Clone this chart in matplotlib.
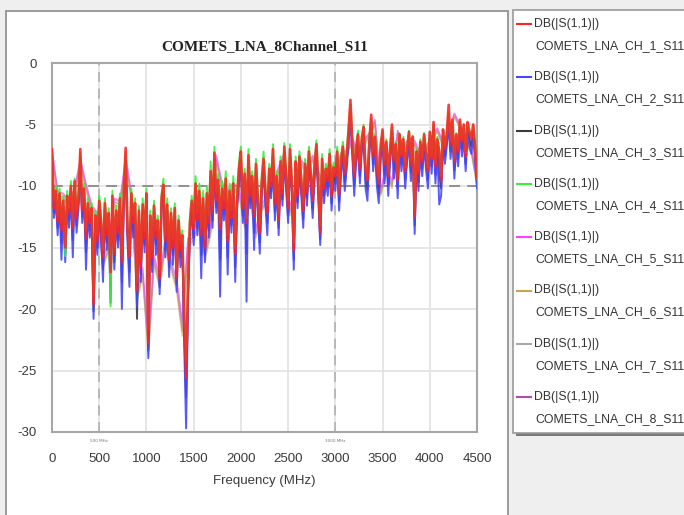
import matplotlib
matplotlib.use('Agg')
import matplotlib.pyplot as plt
from matplotlib.patches import Rectangle
from matplotlib.lines import Line2D
import numpy as np

# frequency grids (MHz)
freq = np.arange(0, 4501, 20)
freq_coarse = np.arange(0, 4501, 60)

# DB(|S(1,1)|) per channel (one row = 500 MHz)
ch1 = [-7.0, -11.8, -10.4, -12.9, -10.6, -13.6, -11.2, -15.0, -10.8, -12.2, -10.0, -13.4, -9.6, -12.6, -11.0, -7.0, -12.0, -10.2, -14.2, -11.4, -13.0, -11.8, -19.6, -12.4, -14.5,
       -11.2, -13.0, -15.8, -11.4, -14.0, -12.2, -17.0, -10.8, -15.5, -12.0, -13.8, -11.0, -16.2, -10.5, -6.9, -13.5, -15.8, -10.6, -13.0, -11.4, -18.5, -12.0, -16.6, -11.5, -14.2,
       -10.6, -22.8, -12.4, -15.8, -11.6, -14.2, -12.8, -17.5, -11.0, -9.9, -14.5, -11.5, -16.0, -12.2, -15.0, -11.8, -17.5, -12.8, -15.2, -14.0, -20.5, -25.6, -18.0, -13.0, -11.2,
       -13.5, -9.8, -12.8, -10.4, -14.0, -11.0, -15.0, -10.6, -13.0, -8.8, -12.2, -7.3, -11.2, -9.5, -13.5, -10.2, -11.8, -9.4, -14.5, -10.4, -12.6, -9.8, -15.5, -11.0, -8.6,
       -7.2, -11.8, -9.0, -13.0, -7.5, -10.8, -9.2, -12.5, -8.2, -11.2, -13.8, -9.8, -7.8, -10.5, -12.2, -8.6, -10.0, -7.0, -11.5, -9.2, -12.8, -8.0, -10.6, -6.8, -9.4,
       -11.8, -7.0, -9.8, -15.2, -8.0, -10.8, -7.6, -9.6, -12.0, -8.2, -10.5, -7.2, -9.0, -11.2, -8.4, -6.6, -9.8, -13.8, -7.8, -10.2, -8.6, -9.6, -7.4, -10.8, -8.5,
       -9.2, -7.2, -10.6, -8.0, -6.8, -9.0, -7.6, -5.5, -3.0, -6.5, -9.2, -7.0, -5.8, -8.6, -6.2, -5.2, -8.8, -9.5, -6.4, -4.2, -7.6, -6.0, -8.5, -9.8, -6.8,
       -5.4, -8.2, -6.4, -9.2, -7.0, -5.0, -8.0, -6.6, -9.5, -5.8, -7.6, -6.2, -8.8, -7.0, -5.6, -8.2, -6.0, -12.5, -7.2, -9.0, -6.4, -8.0, -5.8, -7.4, -8.8,
       -5.6, -7.8, -4.8, -8.4, -6.2, -7.2, -9.6, -5.4, -7.0, -5.8, -3.4, -6.6, -4.6, -8.0, -5.8, -7.2, -4.6, -6.4, -5.0, -7.6, -4.8, -5.6, -6.2, -5.0, -6.8,
       -9.3]
ch2 = [-8.2, -12.6, -11.2, -14.0, -11.4, -16.0, -12.0, -16.2, -11.6, -13.4, -10.8, -15.8, -10.4, -13.8, -11.8, -8.8, -13.0, -11.0, -16.8, -12.2, -14.2, -12.6, -20.8, -13.2, -15.6,
       -12.2, -14.2, -17.8, -12.2, -15.2, -13.0, -19.5, -11.6, -16.8, -12.8, -15.0, -11.8, -20.0, -11.4, -8.8, -14.6, -18.2, -11.4, -14.2, -12.2, -19.8, -12.8, -17.8, -12.4, -15.4,
       -11.6, -24.0, -13.2, -17.0, -12.4, -15.6, -13.6, -18.8, -11.8, -11.0, -15.8, -12.4, -17.4, -13.0, -16.4, -12.6, -18.6, -13.6, -16.6, -15.0, -23.0, -29.7, -19.6, -14.0, -12.0,
       -14.8, -10.8, -14.0, -11.2, -17.5, -11.8, -16.2, -11.4, -14.2, -9.8, -13.4, -8.6, -12.2, -10.5, -19.0, -11.0, -12.8, -10.4, -17.2, -11.2, -13.8, -10.8, -17.8, -11.8, -9.8,
       -8.4, -13.0, -10.0, -19.4, -8.5, -11.8, -10.2, -15.2, -9.0, -12.4, -15.5, -10.8, -8.8, -11.6, -14.0, -9.6, -11.0, -8.0, -12.8, -10.2, -14.0, -9.0, -11.6, -7.8, -10.4,
       -13.0, -8.0, -10.8, -16.8, -9.0, -11.8, -8.6, -10.8, -13.4, -9.2, -11.6, -8.2, -10.2, -12.6, -9.4, -7.6, -11.0, -14.8, -8.8, -11.4, -9.6, -10.8, -8.4, -12.0, -9.6,
       -10.4, -8.2, -12.0, -9.0, -7.8, -10.4, -8.6, -6.6, -4.4, -7.6, -10.8, -8.0, -6.8, -9.8, -7.2, -6.2, -10.2, -11.2, -7.4, -5.4, -8.8, -7.0, -10.0, -11.4, -7.8,
       -6.6, -9.8, -7.4, -10.8, -8.0, -6.2, -9.4, -7.6, -11.0, -6.8, -8.8, -7.2, -10.2, -8.0, -6.6, -9.6, -7.0, -13.9, -8.2, -10.4, -7.4, -9.2, -6.8, -8.6, -10.2,
       -6.8, -9.0, -6.0, -9.8, -7.2, -11.5, -10.8, -6.6, -8.2, -6.8, -5.0, -7.8, -5.8, -9.4, -6.8, -8.4, -5.8, -7.6, -6.2, -8.8, -5.8, -6.8, -7.4, -6.0, -8.0,
       -10.2]
ch3 = [-7.4, -12.2, -10.8, -13.4, -11.0, -14.6, -11.6, -15.5, -11.2, -12.8, -10.4, -14.4, -10.0, -13.2, -11.4, -7.8, -12.5, -10.6, -15.4, -11.8, -13.6, -12.2, -20.2, -12.8, -15.0,
       -11.7, -13.6, -16.8, -11.8, -14.6, -12.6, -18.0, -11.2, -16.2, -12.4, -14.4, -11.4, -17.8, -11.0, -7.8, -14.0, -17.0, -11.0, -13.6, -11.8, -20.8, -12.4, -17.2, -12.0, -14.8,
       -11.1, -23.4, -12.8, -16.4, -12.0, -14.8, -13.2, -18.2, -11.4, -10.4, -15.2, -12.0, -16.6, -12.6, -15.6, -12.2, -18.0, -13.2, -15.8, -14.5, -21.8, -27.2, -18.8, -13.5, -11.6,
       -14.2, -10.3, -13.4, -10.8, -15.6, -11.4, -15.6, -11.0, -13.6, -9.3, -12.8, -7.9, -11.7, -10.0, -16.0, -10.6, -12.3, -9.9, -15.8, -10.8, -13.2, -10.3, -16.6, -11.4, -9.2,
       -7.8, -12.4, -9.5, -15.5, -8.0, -11.3, -9.7, -13.8, -8.6, -11.8, -14.6, -10.3, -8.3, -11.0, -13.0, -9.1, -10.5, -7.5, -12.1, -9.7, -13.4, -8.5, -11.1, -7.3, -9.9,
       -12.4, -7.5, -10.3, -16.0, -8.5, -11.3, -8.1, -10.2, -12.7, -8.7, -11.0, -7.7, -9.6, -11.9, -8.9, -7.1, -10.4, -14.3, -8.3, -10.8, -9.1, -10.2, -7.9, -11.4, -9.0,
       -9.8, -7.7, -11.3, -8.5, -7.3, -9.7, -8.1, -6.0, -3.7, -7.0, -10.0, -7.5, -6.3, -9.2, -6.7, -5.7, -9.5, -10.3, -6.9, -4.8, -8.2, -6.5, -9.2, -10.6, -7.3,
       -6.0, -9.0, -6.9, -10.0, -7.5, -5.6, -8.7, -7.1, -10.2, -6.3, -8.2, -6.7, -9.5, -7.5, -6.1, -8.9, -6.5, -13.2, -7.7, -9.7, -6.9, -8.6, -6.3, -8.0, -9.5,
       -6.2, -8.4, -5.4, -9.1, -6.7, -9.0, -10.2, -6.0, -7.6, -6.3, -4.2, -7.2, -5.2, -8.7, -6.3, -7.8, -5.2, -7.0, -5.6, -8.2, -5.3, -6.2, -6.8, -5.5, -7.4,
       -9.7]
ch4 = [-7.4, -11.2, -10.0, -12.4, -10.2, -13.0, -10.8, -15.7, -10.4, -11.8, -9.6, -12.8, -9.4, -12.0, -10.6, -7.3, -11.6, -9.8, -13.6, -11.0, -12.4, -11.4, -19.0, -12.0, -14.0,
       -10.8, -12.4, -15.2, -11.0, -13.4, -11.8, -19.8, -10.4, -15.0, -11.6, -13.2, -10.6, -15.6, -10.0, -7.2, -13.0, -15.2, -10.2, -12.4, -11.0, -17.8, -11.6, -16.0, -11.0, -13.6,
       -10.2, -21.6, -12.0, -15.2, -11.2, -13.6, -12.4, -16.8, -10.6, -9.4, -14.0, -11.0, -15.4, -11.8, -14.4, -11.4, -16.8, -12.4, -14.6, -13.6, -19.8, -24.2, -17.2, -12.6, -10.8,
       -13.0, -9.2, -12.2, -9.8, -13.4, -10.4, -14.4, -10.0, -12.4, -8.0, -11.6, -6.8, -10.6, -9.0, -13.0, -9.6, -11.2, -8.8, -14.0, -9.8, -12.0, -9.2, -15.0, -10.4, -8.0,
       -6.8, -11.2, -8.6, -12.6, -7.0, -10.2, -8.8, -12.0, -7.8, -10.6, -13.2, -9.2, -7.2, -10.0, -11.6, -8.2, -9.6, -6.6, -11.0, -8.8, -12.2, -7.6, -10.2, -6.5, -9.0,
       -11.2, -6.6, -9.4, -14.6, -7.6, -10.2, -7.2, -9.2, -11.4, -7.8, -10.0, -6.8, -8.6, -10.6, -8.0, -6.3, -9.4, -13.2, -7.4, -9.8, -8.2, -9.2, -7.0, -10.2, -8.1,
       -8.8, -6.8, -10.2, -7.6, -6.4, -8.6, -7.2, -5.2, -3.4, -6.2, -8.8, -6.6, -5.5, -8.2, -5.9, -5.0, -8.4, -9.1, -6.1, -4.5, -7.2, -5.7, -8.1, -9.4, -6.5,
       -5.6, -7.9, -6.2, -8.9, -6.8, -5.2, -7.7, -6.4, -9.2, -5.7, -7.4, -6.0, -8.5, -6.8, -5.5, -7.9, -5.9, -12.0, -7.0, -8.7, -6.2, -7.7, -5.7, -7.2, -8.5,
       -5.6, -7.6, -5.0, -8.1, -6.0, -7.0, -9.2, -5.4, -6.8, -5.7, -4.0, -6.4, -4.8, -7.8, -5.7, -7.0, -4.8, -6.2, -5.0, -7.3, -4.9, -5.5, -6.0, -5.0, -6.6,
       -9.4]
# channels 5-8 sit underneath the others, read at a coarser step
ch5 = [-7.0, -10.4, -10.6, -11.2, -10.2, -7.8, -9.8, -11.5, -12.2, -15.8, -14.6, -11.0, -11.2, -7.6, -10.5, -18.4, -16.6,
       -22.6, -15.6, -17.4, -14.2, -16.0, -17.6, -21.0, -14.2, -13.6, -12.6, -15.0, -13.2, -7.5, -9.7, -10.3, -9.7, -10.2,
       -12.6, -10.7, -13.4, -11.5, -10.7, -9.7, -8.4, -7.3, -11.6, -10.1, -7.9, -8.5, -7.5, -8.8, -9.9, -8.1, -8.7,
       -7.3, -7.1, -6.0, -7.5, -6.3, -5.7, -4.6, -10.2, -8.5, -9.6, -5.5, -6.8, -6.1, -6.3, -7.4, -6.8, -5.9, -5.3,
       -6.4, -5.6, -4.1, -5.0, -6.2, -6.9, -9.5]
ch6 = [-7.4, -10.9, -11.1, -11.8, -10.7, -8.3, -10.3, -12.1, -12.7, -16.6, -15.3, -11.5, -11.7, -8.3, -11.1, -19.3, -17.4,
       -23.8, -16.4, -18.3, -15.0, -16.8, -18.5, -22.2, -14.9, -14.4, -13.4, -16.0, -14.0, -8.1, -10.3, -10.9, -10.3, -10.8,
       -13.4, -11.3, -14.2, -12.1, -11.3, -10.3, -9.0, -7.8, -12.4, -10.7, -8.4, -9.0, -8.0, -9.3, -10.5, -8.6, -9.2,
       -7.8, -7.6, -6.5, -8.0, -6.8, -6.0, -5.0, -10.8, -9.0, -10.2, -5.8, -7.3, -6.5, -6.7, -7.9, -7.2, -6.3, -5.6,
       -6.8, -6.0, -4.4, -5.3, -6.6, -7.3, -10.0]
ch7 = [-7.1, -10.5, -10.7, -11.4, -10.3, -7.9, -9.9, -11.7, -12.3, -16.0, -14.8, -11.1, -11.3, -7.9, -10.7, -18.6, -16.8,
       -23.0, -15.8, -17.6, -14.4, -16.2, -17.8, -21.3, -14.3, -13.8, -12.8, -15.3, -13.4, -7.7, -9.9, -10.5, -9.9, -10.4,
       -12.8, -10.9, -13.6, -11.7, -10.9, -9.9, -8.6, -7.4, -11.8, -10.3, -8.0, -8.6, -7.6, -8.9, -10.1, -8.2, -8.8,
       -7.4, -7.2, -6.1, -7.6, -6.4, -5.7, -4.7, -10.4, -8.6, -9.8, -5.5, -6.9, -6.2, -6.4, -7.5, -6.9, -6.0, -5.3,
       -6.5, -5.7, -4.1, -5.0, -6.3, -7.0, -9.6]
ch8 = [-7.3, -10.8, -10.9, -11.6, -10.5, -8.1, -10.1, -11.9, -12.5, -16.3, -15.1, -11.3, -11.5, -8.1, -10.9, -19.0, -17.1,
       -23.4, -16.1, -18.0, -14.7, -16.5, -18.2, -21.8, -14.6, -14.1, -13.1, -15.6, -13.7, -7.9, -10.1, -10.7, -10.1, -10.6,
       -13.1, -11.1, -13.9, -11.9, -11.1, -10.1, -8.8, -7.6, -12.1, -10.5, -8.2, -8.8, -7.8, -9.1, -10.3, -8.4, -9.0,
       -7.6, -7.4, -6.3, -7.8, -6.6, -5.9, -4.9, -10.6, -8.8, -10.0, -5.7, -7.1, -6.4, -6.6, -7.7, -7.1, -6.2, -5.5,
       -6.7, -5.9, -4.3, -5.2, -6.5, -7.2, -9.8]

channels = ['COMETS_LNA_CH_1_S11', 'COMETS_LNA_CH_2_S11', 'COMETS_LNA_CH_3_S11', 'COMETS_LNA_CH_4_S11',
            'COMETS_LNA_CH_5_S11', 'COMETS_LNA_CH_6_S11', 'COMETS_LNA_CH_7_S11', 'COMETS_LNA_CH_8_S11']
colors = ['#ff2424', '#4646ff', '#3a3a3a', '#38f038', '#ff40ff', '#c9a44a', '#a8a8a8', '#b04cb0']
xticks = [0, 500, 1000, 1500, 2000, 2500, 3000, 3500, 4000, 4500]
yticks = [0, -5, -10, -15, -20, -25, -30]
markers = [500, 3000]

W, H = 684, 515
sans = ['Liberation Sans', 'DejaVu Sans']


def fx(px):
    return px / W


def fy(py):
    return 1 - py / H


fig = plt.figure(figsize=(W / 100, H / 100), dpi=100, facecolor='#efefef')

# plot panel and legend panel backgrounds
fig.add_artist(Rectangle((fx(6), fy(520)), fx(508) - fx(6), fy(11) - fy(520),
                         transform=fig.transFigure, facecolor='white', edgecolor='#9a9a9a', lw=1.4, zorder=0))
fig.add_artist(Rectangle((fx(516), fy(436)), fx(200), fy(13) - fy(436),
                         transform=fig.transFigure, facecolor='#7a7a7a', edgecolor='none', zorder=0))
fig.add_artist(Rectangle((fx(513), fy(433)), fx(200), fy(10) - fy(433),
                         transform=fig.transFigure, facecolor='white', edgecolor='#9a9a9a', lw=1.2, zorder=0))

ax = fig.add_axes([fx(52), fy(432), fx(477) - fx(52), fy(63) - fy(432)])
ax.set_facecolor('white')

# hidden channels first, CH1 last so it sits on top
series = [(freq_coarse, ch8, 7), (freq_coarse, ch7, 6), (freq_coarse, ch6, 5), (freq_coarse, ch5, 4),
          (freq, ch3, 2), (freq, ch2, 1), (freq, ch4, 3), (freq, ch1, 0)]
for xs, ys, k in series:
    if k >= 4:
        lw, alpha = 1.1, 0.6
    elif k == 0:
        lw, alpha = 1.9, 0.88
    else:
        lw, alpha = 1.4, 0.9
    ax.plot(xs, ys, color=colors[k], lw=lw, alpha=alpha, zorder=3)

ax.set_xlim(0, 4500)
ax.set_ylim(-30, 0)
ax.set_xticks(xticks)
ax.set_yticks(yticks)
ax.set_xticklabels([str(t) for t in xticks], family=sans, fontsize=9.5, color='#3a3a3a')
ax.set_yticklabels([str(t) for t in yticks], family=sans, fontsize=9.5, color='#3a3a3a')
ax.tick_params(length=0)
ax.tick_params(axis='x', pad=15)
ax.tick_params(axis='y', pad=11)
ax.grid(True, color='#e2e2e2', lw=1.2, zorder=1)
for s in ax.spines.values():
    s.set_color('#a6a6a6')
    s.set_linewidth(1.5)

for m in markers:
    ax.axvline(m, color='#b0b0b0', lw=1.2, ls=(0, (6, 4)), zorder=2)
    ax.text(m, -30.6, f'{m} MHz', fontsize=3, color='#777777', ha='center', va='top')
ax.axhline(-10, color='#8a8a8a', lw=1.3, ls=(0, (6, 4)), zorder=2)

ax.set_title('COMETS_LNA_8Channel_S11', family=['Liberation Serif', 'DejaVu Serif'],
             fontweight='bold', fontsize=11, color='#222222', pad=9)
ax.set_xlabel('Frequency (MHz)', family=sans, fontsize=9.5, color='#3a3a3a', labelpad=7)

# legend panel drawn by hand, two-line entries like the source tool
for k, name in enumerate(channels):
    y = 24 + k * 53.3
    fig.add_artist(Line2D([fx(517), fx(531)], [fy(y), fy(y)], color=colors[k], lw=1.5,
                          transform=fig.transFigure))
    fig.text(fx(534), fy(y), 'DB(|S(1,1)|)', family=sans, fontsize=8.8, color='#333333', va='center')
    fig.text(fx(535), fy(y + 22), name, family=sans, fontsize=8.8, color='#333333', va='center')

fig.savefig('out.png', dpi=100, facecolor=fig.get_facecolor())
